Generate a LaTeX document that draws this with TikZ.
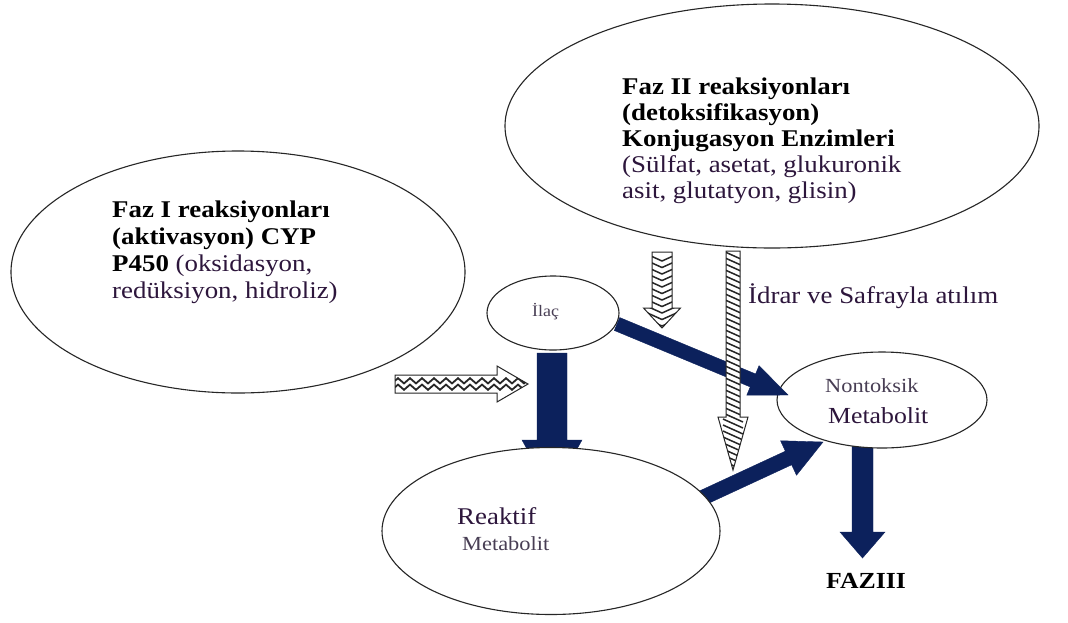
\documentclass[tikz,border=0pt]{standalone}
\usepackage{fontspec}
\setmainfont{Liberation Serif}[FakeStretch=1.12]
\usetikzlibrary{shapes.geometric,calc,decorations.pathmorphing}
\definecolor{darknavy}{RGB}{12,33,92}
\definecolor{regtext}{RGB}{45,22,60}
\definecolor{lighttext}{RGB}{72,62,84}
\newcommand\blockarrow[6]{%
  \coordinate (ba-c) at ($(#2)!#5!(#1)$);
  \path[#6] ($(#1)!#3!90:(#2)$) -- ($(ba-c)!#3!-90:(#1)$) -- ($(ba-c)!#4!-90:(#1)$) -- (#2)
     -- ($(ba-c)!#4!90:(#1)$) -- ($(ba-c)!#3!90:(#1)$) -- ($(#1)!#3!-90:(#2)$) -- cycle;}
\tikzset{
  ell/.style={ellipse, draw=black!85, line width=1.1pt, fill=white, inner sep=0pt},
  navyarrow/.style={fill=darknavy, draw=darknavy, line width=0.4pt, line join=miter},
  stripebase/.style={fill=white, draw=black!85, line width=1pt, line join=miter},
  hzig/.style={stripebase, path picture={\foreach \d in {-3.2,3.2}{\draw[line width=1.8pt, black!85, decorate, decoration={zigzag,segment length=12pt,amplitude=2.6pt}] ([yshift=\d pt]path picture bounding box.west) -- ([yshift=\d pt]path picture bounding box.east);}}},
  vchev/.style={stripebase, path picture={\foreach \i in {0,...,12}{\draw[line width=1.5pt, black!85] ([xshift=-20pt,yshift=-\i*6.5pt]path picture bounding box.north) -- ++(20pt,-9pt) -- ++(20pt,9pt);}}},
  vzig/.style={stripebase, path picture={\foreach \i in {0,...,40}{\draw[line width=1.5pt, black!85] ([xshift=-10pt,yshift=-\i*6pt]path picture bounding box.north) -- ++(20pt,-9pt);}}},
  bt/.style={font=\fontsize{24}{26}\selectfont\bfseries, text=black, anchor=base west, inner sep=0pt},
  rt/.style={font=\fontsize{24}{26}\selectfont, text=regtext, anchor=base west, inner sep=0pt},
}
\begin{document}
\begin{tikzpicture}[x=1pt,y=-1pt]
\fill[white] (0,0) rectangle (1068,622);
\useasboundingbox (0,0) rectangle (1068,622);

% arrows hidden partly under ellipses
\coordinate (a1s) at (552,353);
\coordinate (a1e) at (552,494);
\blockarrow{a1s}{a1e}{15pt}{30pt}{54pt}{navyarrow}
\coordinate (a2s) at (687,505);
\coordinate (a2e) at (823,442);
\blockarrow{a2s}{a2e}{7.5pt}{19pt}{38pt}{navyarrow}
\coordinate (a3s) at (862.5,440);
\coordinate (a3e) at (862.5,558);
\blockarrow{a3s}{a3e}{10.5pt}{22.5pt}{26pt}{navyarrow}

% ellipses
\node[ell, minimum width=454pt, minimum height=242pt] (faz1) at (238,272) {};
\node[ell, minimum width=534pt, minimum height=244pt] (faz2) at (772,126) {};
\node[ell, minimum width=132pt, minimum height=74pt] (ilac) at (553,313) {};
\node[ell, minimum width=210pt, minimum height=96pt] (nontox) at (882,400) {};
\node[ell, minimum width=338pt, minimum height=167pt] (reaktif) at (551,531) {};

% arrow from Ilac to Nontoksik
\coordinate (a4s) at (617,324);
\coordinate (a4e) at (788,395);
\blockarrow{a4s}{a4e}{7pt}{16pt}{38pt}{navyarrow}

% striped arrows
\coordinate (s1s) at (395,384);
\coordinate (s1e) at (528,384);
\blockarrow{s1s}{s1e}{9pt}{18pt}{31pt}{hzig}
\coordinate (s2s) at (662,252);
\coordinate (s2e) at (662,328);
\blockarrow{s2s}{s2e}{10pt}{18.5pt}{20pt}{vchev}
\coordinate (s3s) at (733,251);
\coordinate (s3e) at (733,470);
\blockarrow{s3s}{s3e}{7pt}{15pt}{53pt}{vzig}

% texts
\node[bt] (f1a) at (112,217) {Faz I reaksiyonları};
\node[bt] (f1b) at (112,244) {(aktivasyon) CYP};
\node[bt] (f1c) at (112,271) {P450 \textcolor{regtext}{\mdseries(oksidasyon,}};
\node[rt] (f1d) at (112,298) {redüksiyon, hidroliz)};

\node[bt] (f2a) at (622,94) {Faz II reaksiyonları};
\node[bt] (f2b) at (622,120) {(detoksifikasyon)};
\node[bt] (f2c) at (622,146) {Konjugasyon Enzimleri};
\node[rt] (f2d) at (622,172) {(Sülfat, asetat, glukuronik};
\node[rt] (f2e) at (622,198) {asit, glutatyon, glisin)};

\node[rt, font=\fontsize{16}{18}\selectfont, text=lighttext] (tilac) at (532,316) {İlaç};
\node[rt] (tidrar) at (748,303) {İdrar ve Safrayla atılım};
\node[rt, font=\fontsize{20}{22}\selectfont, text=lighttext] (tnon1) at (825,392) {Nontoksik};
\node[rt, font=\fontsize{23}{25}\selectfont] (tnon2) at (828,423) {Metabolit};
\node[rt] (trk1) at (457,524) {Reaktif};
\node[rt, font=\fontsize{20}{22}\selectfont, text=lighttext] (trk2) at (462,550) {Metabolit};
\node[bt, font=\fontsize{23}{25}\selectfont\bfseries] (tfaz3) at (826,588) {FAZIII};
\end{tikzpicture}
\end{document}
